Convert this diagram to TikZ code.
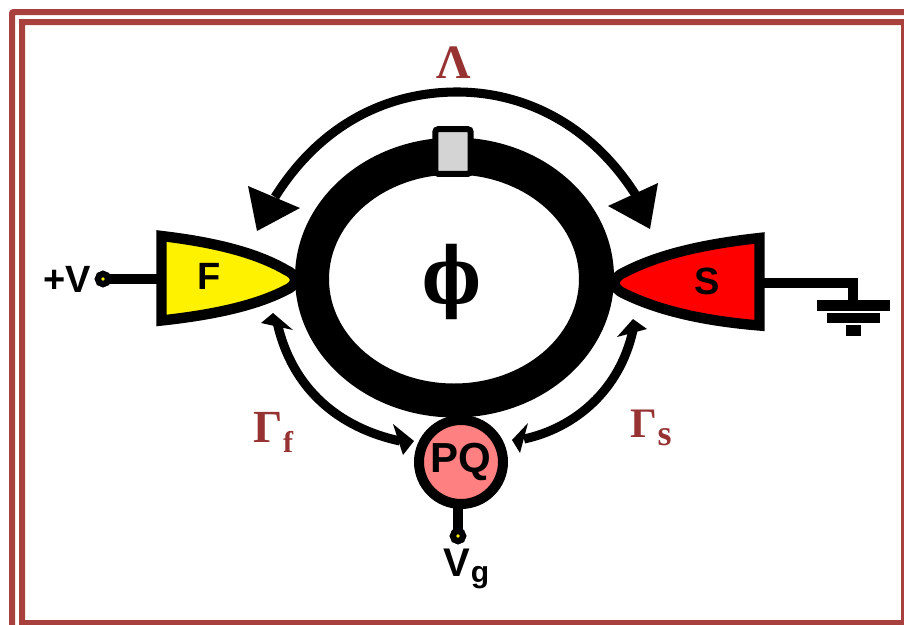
\documentclass[tikz,border=0pt]{standalone}
\usepackage{fontspec}
\setmainfont{Liberation Sans}
\newfontfamily\serifgreek{Liberation Serif}
\newfontfamily\phifont{DejaVu Serif}
\definecolor{framered}{HTML}{A8403E}
\definecolor{greekred}{HTML}{963232}
\definecolor{pqpink}{HTML}{FF8080}
\definecolor{gategray}{HTML}{D4D4D4}
\newcommand{\pxfont}[1]{\edef\pxsize{\the\dimexpr#1pt*3/4\relax}\fontsize{\pxsize}{\pxsize}\selectfont}
\tikzset{
  framebar/.style={fill=framered,draw=none},
  wire/.style={line width=7.5pt,black,line cap=butt},
  lead/.style={line width=7.8pt,black,line cap=butt,line join=miter,miter limit=10},
  arc1/.style={line width=6.8pt,black},
  arc2/.style={line width=6.8pt,black},
  head/.style={fill=black,draw=none},
  term/.style={circle,fill=yellow,draw=black,line width=4.6pt,inner sep=0pt,minimum size=7.6pt,outer sep=0pt},
  blab/.style={inner sep=0pt,font=\bfseries,text=black},
  glab/.style={inner sep=0pt,text=greekred},
  groundbar/.style={fill=black,draw=none}
}
\begin{document}
\begin{tikzpicture}[x=0.75pt,y=-0.75pt]
\useasboundingbox (0,0) rectangle (904,625);
\fill[white] (0,0) rectangle (904,625);
% frame
\fill[framebar] (9,625) [rounded corners=3pt] -- (9,9) [sharp corners] -- (904,9) -- (904,15) -- (15,15) -- (15,625) -- cycle;
\fill[framebar] (19,625) -- (19,19) -- (904,19) -- (904,25) -- (25,25) -- (25,620) -- (904,620) -- (904,625) -- cycle;
\fill[framebar] (901,25) rectangle (904,620);
% ring
\fill[black,even odd rule] (454.5,277.5) ellipse [x radius=159.5,y radius=140]
  (454,279) ellipse [x radius=125,y radius=104.5];
% junction
\node[draw=black,fill=gategray,line width=4.5pt,rounded corners=2pt,minimum width=26.5pt,minimum height=33.4pt,inner sep=0pt,outer sep=0pt] (gate) at (453,151.5) {};
% lead F
\coordinate (Ftl) at (161.5,236);
\coordinate (Fbl) at (161.5,320.5);
\coordinate (Ftu) at (286,270);
\coordinate (Ftd) at (286,290);
\node[term] (tv) at (103,279) {};
\draw[wire] (tv.center) -- (161.5,279);
\node[term] (tv2) at (103,279) {};
\draw[lead,fill=yellow] (Ftl) .. controls (212,242) and (255,252) .. (Ftu)
  .. controls (298,275) and (298,285) .. (Ftd)
  .. controls (255,306) and (212,315) .. (Fbl) -- cycle;
\node[blab,font=\bfseries\pxfont{38}] (Flab) at (209.5,276) {F};
% lead S
\coordinate (Str) at (759.5,238);
\coordinate (Sbr) at (759.5,325.5);
\coordinate (Stu) at (625,272);
\coordinate (Std) at (625,294);
\coordinate (gtop) at (853,305);
\draw[lead] (759.5,283) -- (853,283) -- (gtop);
\draw[lead,fill=red] (Str) .. controls (705,244) and (660,254) .. (Stu)
  .. controls (611,278) and (611,288) .. (Std)
  .. controls (660,311) and (705,321) .. (Sbr) -- cycle;
\node[blab,font=\bfseries\pxfont{38}] (Slab) at (707,281.5) {S};
% left label
\node[blab,font=\bfseries\pxfont{38},anchor=east] (plusv) at (91.5,279.5) {+V};
% ground
\fill[groundbar] (817,300) rectangle (890,311);
\fill[groundbar] (827,313) rectangle (880,323);
\fill[groundbar] (846,325) rectangle (861,336);
% PQ
\node[circle,draw=black,fill=pqpink,line width=7.5pt,minimum size=63pt,inner sep=0pt] (pq) at (461,462) {};
\node[blab,font=\bfseries\pxfont{42}] (pqlab) at (461,462) {PQ};
\node[term] (tg) at (458,536) {};
\draw[wire] (458,505) -- (tg.center);
\node[term] (tg2) at (458,536) {};
\node[blab,font=\bfseries\pxfont{40}] (vg) at (457,563) {V};
\node[blab,font=\bfseries\pxfont{30}] (vgsub) at (480,578) {g};
% Lambda arrow
\coordinate (la) at (275,197);
\coordinate (lb) at (637,197);
\draw[arc1] (la) .. controls (322,122) and (390,92) .. (457,92)
  .. controls (525,92) and (592,125) .. (lb);
\fill[head] (257,231) -- (248,186) -- (300,208) -- cycle;
\fill[head] (650,229) -- (658,183) -- (608,206) -- cycle;
% Gamma f arrow
\coordinate (ga) at (277,322);
\coordinate (gb) at (400,441);
\draw[arc2] (ga) .. controls (292,390) and (340,428) .. (gb);
\fill[head] (273,313) -- (261,323) -- (293,330) -- cycle;
\fill[head] (414,441) -- (393,424) -- (403,455) -- cycle;
% Gamma s arrow
\coordinate (gc) at (633,330);
\coordinate (gd) at (524,439);
\draw[arc2] (gc) .. controls (620,390) and (575,428) .. (gd);
\fill[head] (633,319) -- (617,337) -- (647,329) -- cycle;
\fill[head] (512,440) -- (528,423) -- (520,453) -- cycle;
% greek
\node[glab,font=\serifgreek\bfseries\pxfont{48}] (lam) at (453.5,63) {Λ};
\node[glab,font=\serifgreek\bfseries\pxfont{46}] (gf) at (268,427) {Γ};
\node[glab,font=\serifgreek\bfseries\pxfont{30}] (gfs) at (288,442) {f};
\node[glab,font=\serifgreek\bfseries\pxfont{42}] (gs) at (644,424) {Γ};
\node[glab,font=\serifgreek\bfseries\pxfont{36}] (gss) at (664.5,437) {s};
\node[inner sep=0pt,font=\phifont\bfseries\pxfont{78},text=black,xscale=0.8,transform shape] (phi) at (452,282) {ϕ};
\end{tikzpicture}
\end{document}
